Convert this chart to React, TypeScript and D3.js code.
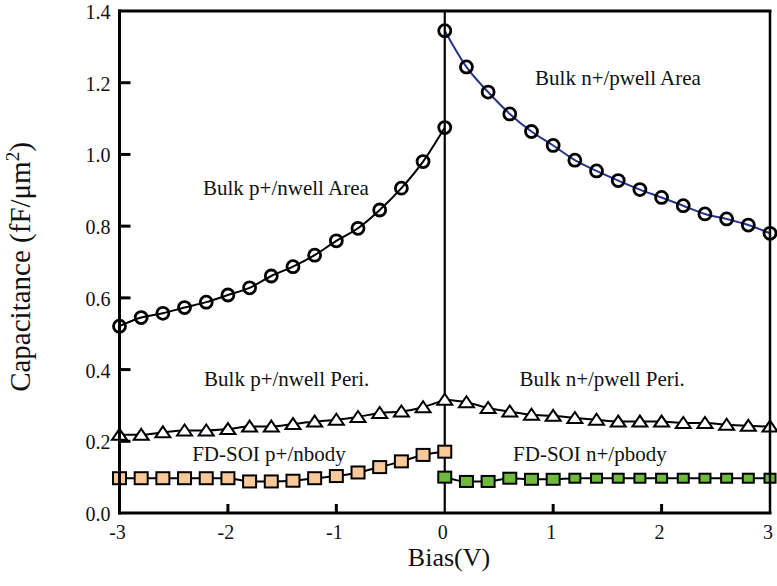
import React from "react";
import * as d3 from "d3";

const biasLeft = [-3, -2.8, -2.6, -2.4, -2.2, -2, -1.8, -1.6, -1.4, -1.2, -1, -0.8, -0.6, -0.4, -0.2, 0];
const biasRight = [0, 0.2, 0.4, 0.6, 0.8, 1, 1.2, 1.4, 1.6, 1.8, 2, 2.2, 2.4, 2.6, 2.8, 3];

const pAreaValues = [0.521, 0.545, 0.557, 0.573, 0.588, 0.608, 0.628, 0.661, 0.687, 0.719, 0.759, 0.794, 0.845, 0.906, 0.98, 1.075];
const nAreaValues = [1.345, 1.244, 1.174, 1.113, 1.064, 1.025, 0.984, 0.954, 0.927, 0.902, 0.88, 0.857, 0.834, 0.82, 0.803, 0.78];
const pPeriValues = [0.218, 0.218, 0.225, 0.23, 0.23, 0.234, 0.241, 0.241, 0.248, 0.255, 0.26, 0.268, 0.279, 0.283, 0.295, 0.316];
const nPeriValues = [0.316, 0.309, 0.293, 0.283, 0.274, 0.271, 0.265, 0.26, 0.255, 0.255, 0.255, 0.251, 0.251, 0.246, 0.243, 0.241];
const soiPValues = [0.097, 0.097, 0.097, 0.097, 0.097, 0.097, 0.088, 0.088, 0.09, 0.097, 0.103, 0.113, 0.128, 0.144, 0.162, 0.171];
const soiNValues = [0.1, 0.088, 0.088, 0.097, 0.094, 0.094, 0.097, 0.097, 0.097, 0.097, 0.097, 0.097, 0.097, 0.097, 0.097, 0.097];

const xTicks = [-3, -2, -1, 0, 1, 2, 3];
const yTicks = [0, 0.2, 0.4, 0.6, 0.8, 1.0, 1.2, 1.4];

const annotations = [
  { text: "Bulk n+/pwell Area", x: 0.833, y: 1.194 },
  { text: "Bulk p+/nwell Area", x: -2.23, y: 0.887 },
  { text: "Bulk p+/nwell Peri.", x: -2.22, y: 0.355 },
  { text: "Bulk n+/pwell Peri.", x: 0.69, y: 0.355 },
  { text: "FD-SOI p+/nbody", x: -2.33, y: 0.145 },
  { text: "FD-SOI n+/pbody", x: 0.63, y: 0.145 },
];

const W = 777;
const H = 586;
const left = 119.5;
const right = 770;
const top = 11;
const bottom = 513;
const FONT = "Liberation Serif, DejaVu Serif, serif";

export default function App() {
  const x = d3.scaleLinear().domain([-3, 3]).range([left, right]);
  const y = d3.scaleLinear().domain([0, 1.4]).range([bottom, top]);

  const mk = (xs: number[], ys: number[]) => xs.map((v, i) => [v, ys[i]] as [number, number]);
  const line = d3
    .line<[number, number]>()
    .x((d) => x(d[0]))
    .y((d) => y(d[1]))
    .curve(d3.curveMonotoneX);

  const pArea = mk(biasLeft, pAreaValues);
  const nArea = mk(biasRight, nAreaValues);
  const pPeri = mk(biasLeft, pPeriValues);
  const nPeri = mk(biasRight, nPeriValues);
  const soiP = mk(biasLeft, soiPValues);
  const soiN = mk(biasRight, soiNValues);

  const tri = (cx: number, cy: number) =>
    `M${cx - 7.5},${cy + 5} L${cx + 7.5},${cy + 5} L${cx},${cy - 6} Z`;

  const ts = { fontFamily: FONT };

  return (
    <svg
      width={W}
      height={H}
      style={{ position: "absolute", left: 0, top: 0, background: "#fff" }}
    >
      <rect x={0} y={0} width={W} height={H} fill="#fff" />

      {/* lines */}
      <path d={line(pArea) || ""} fill="none" stroke="#000" strokeWidth={2} />
      <path d={line(nArea) || ""} fill="none" stroke="#27348b" strokeWidth={2} />
      <path d={line(pPeri) || ""} fill="none" stroke="#000" strokeWidth={2} />
      <path d={line(nPeri) || ""} fill="none" stroke="#000" strokeWidth={2} />
      <path d={line(soiP) || ""} fill="none" stroke="#000" strokeWidth={2} />
      <path d={line(soiN) || ""} fill="none" stroke="#000" strokeWidth={2} />

      {/* zero vertical line */}
      <line x1={x(0)} x2={x(0)} y1={top} y2={bottom} stroke="#000" strokeWidth={2.2} />

      {/* circle markers */}
      {[...pArea, ...nArea].map((d, i) => (
        <circle key={"c" + i} cx={x(d[0])} cy={y(d[1])} r={6} fill="none" stroke="#000" strokeWidth={2.8} />
      ))}

      {/* triangle markers */}
      {[...pPeri, ...nPeri.slice(1)].map((d, i) => (
        <path key={"t" + i} d={tri(x(d[0]), y(d[1]))} fill="#fff" stroke="#000" strokeWidth={2} />
      ))}

      {/* orange squares */}
      {soiP.map((d, i) => (
        <rect key={"o" + i} x={x(d[0]) - 6.5} y={y(d[1]) - 6} width={13} height={12} fill="#f9c99a" stroke="#000" strokeWidth={2} />
      ))}

      {/* green squares */}
      {soiN.map((d, i) => {
        const w = i < 6 ? 13 : 11;
        const h = i < 6 ? 11 : 9;
        return (
          <rect key={"g" + i} x={x(d[0]) - w / 2} y={y(d[1]) - h / 2} width={w} height={h} fill="#6cbb3c" stroke="#000" strokeWidth={2} />
        );
      })}

      {/* frame */}
      <line x1={left} x2={left} y1={top - 1.5} y2={bottom + 1.5} stroke="#000" strokeWidth={3} />
      <line x1={left - 1.5} x2={right + 1.5} y1={bottom} y2={bottom} stroke="#000" strokeWidth={3} />
      <line x1={left - 1.5} x2={right + 1.5} y1={top} y2={top} stroke="#000" strokeWidth={3} />
      <line x1={right} x2={right} y1={top} y2={bottom} stroke="#000" strokeWidth={2.5} />

      {/* y ticks */}
      {yTicks.filter((t) => t > 0 && t < 1.4).map((t) => (
        <line key={"yt" + t} x1={left} x2={left + 11} y1={y(t)} y2={y(t)} stroke="#000" strokeWidth={3} />
      ))}
      {yTicks.map((t) => (
        <text key={"yl" + t} x={left - 9} y={y(t) + 8} fontSize={20} textAnchor="end" fill="#111" style={ts}>
          {t.toFixed(1)}
        </text>
      ))}

      {/* x ticks */}
      {xTicks.filter((t) => t !== 0 && Math.abs(t) !== 3).map((t) => (
        <line key={"xt" + t} x1={x(t)} x2={x(t)} y1={bottom} y2={bottom - 9} stroke="#000" strokeWidth={3} />
      ))}
      {xTicks.map((t) => (
        <text key={"xl" + t} x={x(t) - 2} y={bottom + 26} fontSize={20} textAnchor="middle" fill="#111" style={ts}>
          {String(t)}
        </text>
      ))}

      {/* annotations */}
      {annotations.map((a) => (
        <text key={a.text} x={x(a.x)} y={y(a.y)} fontSize={21} fill="#111" style={ts}>
          {a.text}
        </text>
      ))}

      {/* axis titles */}
      <text x={449} y={566} fontSize={26} textAnchor="middle" fill="#111" style={ts}>
        Bias(V)
      </text>
      <text transform="translate(30,267) rotate(-90)" fontSize={29} textAnchor="middle" fill="#111" style={ts}>
        Capacitance (fF/μm<tspan fontSize={19} dy={-11}>2</tspan><tspan dy={11}>)</tspan>
      </text>
    </svg>
  );
}
